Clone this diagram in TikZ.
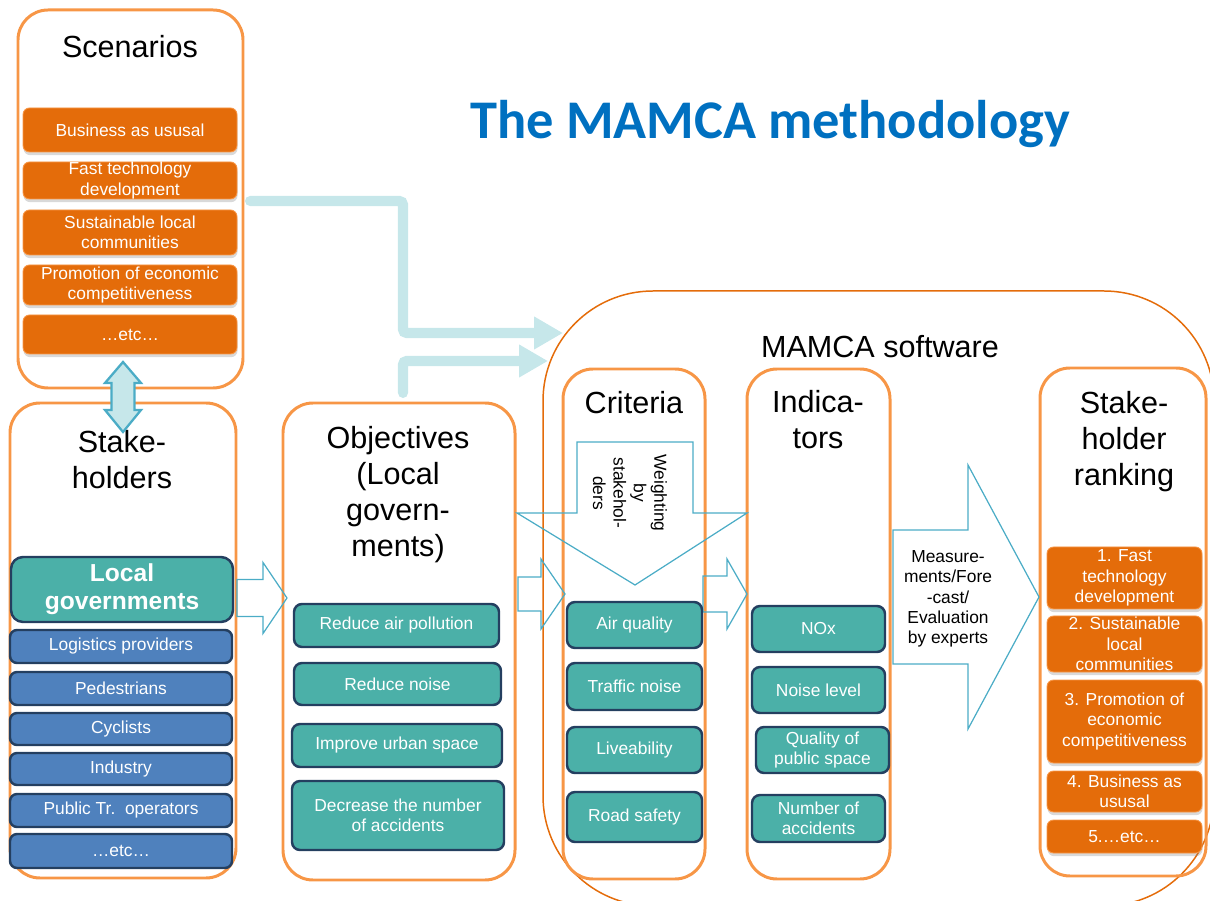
\documentclass[tikz,border=0pt]{standalone}
\usepackage{fontspec}
\setmainfont{Liberation Sans}
\newfontfamily\titlefont{Carlito}
\usetikzlibrary{fit,arrows.meta,shadows}

\definecolor{frame}{HTML}{F79646}
\definecolor{softline}{HTML}{E46C0A}
\definecolor{scenfill}{HTML}{E46C0A}
\definecolor{tealfill}{HTML}{4BB0A8}
\definecolor{navy}{HTML}{243F60}
\definecolor{actorfill}{HTML}{4F81BD}
\definecolor{aqua}{HTML}{4BACC6}
\definecolor{paleaqua}{HTML}{C6E7EA}
\definecolor{headblue}{HTML}{0070C0}

\tikzset{
  group/.style={draw=frame, line width=1.7pt, rounded corners=0.6cm, inner sep=0pt},
  corners/.style args={#1/#2/#3/#4}{at={({(#1+#3)/2},{(#2+#4)/2})},
    minimum width={(#3-#1)*0.02cm}, minimum height={(#4-#2)*0.02cm}},
  heading/.style={font=\fontsize{17.4}{20.5}\selectfont, align=center},
  small/.style={font=\fontsize{9.9}{11.6}\selectfont, align=center},
  item/.style={small, inner sep=0pt, text=white},
  scenario/.style={item, fill=scenfill, draw=frame, line width=0.5pt, rounded corners=0.13cm,
    drop shadow={shadow xshift=0.3pt, shadow yshift=-1.8pt, opacity=0.3}},
  criterion/.style={item, fill=tealfill, draw=navy, line width=1.4pt, rounded corners=0.16cm},
  actor/.style={item, fill=actorfill, draw=navy, line width=1.4pt, rounded corners=0.14cm},
  hollow/.style={draw=aqua, line width=0.7pt, line join=miter},
  feed/.style={draw=paleaqua, line width=5.7pt, rounded corners=2pt, line cap=round,
    -{Triangle[length=0.58cm, width=0.62cm]}},
}

\begin{document}
\begin{tikzpicture}[x=0.02cm, y=-0.02cm]
 \useasboundingbox (0,0) rectangle (1210,901);

 % frames
 \node[group, fit={(18,10) (243,388)}] (scen) {};
 \node[group, fit={(10,403) (236,878)}] (stk) {};
 \node[group, fit={(283,403) (515,880)}] (obj) {};
 \node[draw=softline, line width=0.85pt, rounded corners=2.2cm, inner sep=0pt,
   fit={(543,291) (1214,906)}] (mamca) {};
 \node[group, fit={(563,369) (705,879)}] (crit) {};
 \node[group, fit={(747,369) (890,879)}] (ind) {};
 \node[group, fit={(1040,368) (1206,876)}] (rank) {};

 \node[heading] (scenT) at (130,47) {Scenarios};
 \node[heading] (stkT) at (122,460) {Stake-\\holders};
 \node[heading] (objT) at (398,495) {Objectives\\(Local\\govern-\\ments)};
 \node[heading] (mamcaT) at (880,347) {MAMCA software};
 \node[heading] (critT) at (634,403) {Criteria};
 \node[heading] (indT) at (818,420) {Indica-\\tors};
 \node[heading] (rankT) at (1124,442) {Stake-\\holder\\ranking};

 \node[font=\titlefont\bfseries\fontsize{31}{36}\selectfont, text=headblue] (title) at (770,124)
   {The MAMCA methodology};

 % feeds into the software
 \coordinate (f1) at (250,201);
 \coordinate (t1) at (563,333);
 \coordinate (f2) at (403,393);
 \coordinate (t2) at (548,361);
 \draw[feed] (f1) -| (403,333) -- (t1);
 \draw[feed] (f2) |- (t2);

 % block arrows
 \foreach \xa/\xb/\xc/\yc/\bh/\hh in {237/263/287/598/18.5/35.5, 518/541/565/594/17/35,
   703/727/747/594/18/35, 893/968/1039/597/67/132}
  \draw[hollow] (\xa,\yc-\bh) -- (\xb,\yc-\bh) -- (\xb,\yc-\hh) -- (\xc,\yc)
    -- (\xb,\yc+\hh) -- (\xb,\yc+\bh) -- (\xa,\yc+\bh) -- cycle;
 \draw[hollow] (577,442) -- (693,442) -- (693,513) -- (747,513) -- (635,585)
   -- (517,513) -- (577,513) -- cycle;
 \node[small, rotate=-90] (wgt) at (630,493) {Weighting\\by\\stakehol-\\ders};
 \node[small] (meas) at (948,599) {Measure-\\ments/Fore\\-cast/\\Evaluation\\by experts};

 \draw[fill=paleaqua, draw=aqua, line width=1.3pt] (123,362) -- (141,383) -- (134.5,383)
   -- (134.5,410) -- (141,410) -- (123,432) -- (105,410) -- (111.5,410) -- (111.5,383)
   -- (105,383) -- cycle;

 % boxes
 \foreach \t/\ya/\yb [count=\i] in {Business as ususal/108/152, Fast technology\\development/162/199,
   Sustainable local\\communities/210/255, Promotion of economic\\competitiveness/265/305, …etc…/315/354}
  \node[scenario, corners={23/\ya/237/\yb}] (sc\i) {\t};

 \node[criterion, corners={11/557/233/622}, rounded corners=0.24cm,
   font=\bfseries\fontsize{14}{16}\selectfont] (lgov) {Local\\governments};
 \foreach \t/\ya/\yb [count=\i] in {Logistics providers/630/663, Pedestrians/672/705, Cyclists/713/745,
   Industry/753/785, Public Tr.\ \ operators/794/827, …etc…/834/868}
  \node[actor, corners={10/\ya/232/\yb}] (act\i) {\t};

 \foreach \t/\xa/\ya/\xb/\yb [count=\i] in {Reduce air pollution/294/604/499/647,
   Reduce noise/294/663/501/705, Improve urban space/292/724/502/767,
   Decrease the number\\of accidents/292/781/504/850}
  \node[criterion, corners={\xa/\ya/\xb/\yb}] (ob\i) {\t};

 \foreach \t/\ya/\yb [count=\i] in {Air quality/602/648, Traffic noise/663/710,
   Liveability/727/773, Road safety/792/842}
  \node[criterion, corners={567/\ya/702/\yb}] (cr\i) {\t};

 \foreach \t/\xa/\xb/\ya/\yb [count=\i] in {NOx/752/885/606/652, Noise level/752/885/667/713,
   Quality of\\public space/756/889/727/773, Number of\\accidents/752/885/795/842}
  \node[criterion, corners={\xa/\ya/\xb/\yb}] (in\i) {\t};

 \foreach \t/\ya/\yb [count=\i] in {1. Fast\\technology\\development/547/609,
   2. Sustainable\\local\\communities/616/672, 3. Promotion of\\economic\\competitiveness/680/763,
   4. Business as\\ususal/771/812, 5.…etc…/820/853}
  \node[scenario, corners={1047/\ya/1202/\yb}] (rk\i) {\t};
\end{tikzpicture}
\end{document}
